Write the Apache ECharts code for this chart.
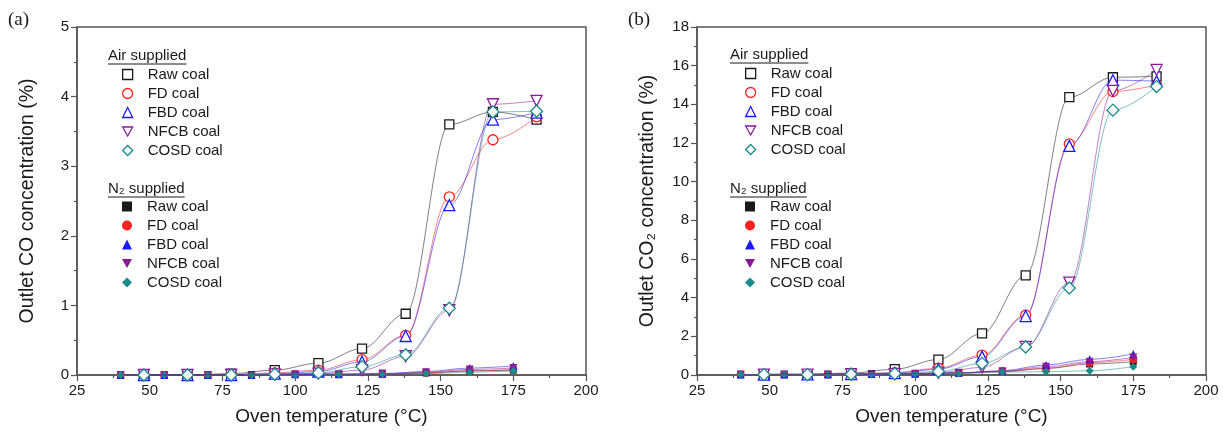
<!DOCTYPE html>
<html>
<head>
<meta charset="utf-8">
<script src="https://cdn.jsdelivr.net/npm/echarts@6/dist/echarts.min.js"></script>
<style>
html,body{margin:0;padding:0;background:#fff;}
#chart{width:1223px;height:436px;}
</style>
</head>
<body>
<div id="chart"></div>
<script>
// ---------- data ----------
const coalNames = ['Raw coal', 'FD coal', 'FBD coal', 'NFCB coal', 'COSD coal'];
const tempAir = [48, 63, 78, 93, 108, 123, 138, 153, 168, 183];
const tempN2 = [40, 55, 70, 85, 100, 115, 130, 145, 160, 175];

// Outlet CO (%) - air supplied
const coAirRaw  = [0.00, 0.00, 0.02, 0.07, 0.17, 0.38, 0.88, 3.60, 3.78, 3.67];
const coAirFD   = [0.00, 0.00, 0.01, 0.03, 0.07, 0.22, 0.57, 2.56, 3.38, 3.71];
const coAirFBD  = [0.00, 0.00, 0.00, 0.02, 0.05, 0.19, 0.56, 2.44, 3.67, 3.77];
const coAirNFCB = [0.00, 0.00, 0.00, 0.01, 0.02, 0.07, 0.27, 0.93, 3.89, 3.94];
const coAirCOSD = [0.00, 0.00, 0.00, 0.01, 0.03, 0.12, 0.29, 0.96, 3.78, 3.79];
// Outlet CO (%) - N2 supplied
const coN2Raw  = [0.00, 0.00, 0.00, 0.00, 0.01, 0.01, 0.01, 0.03, 0.06, 0.07];
const coN2FD   = [0.00, 0.00, 0.00, 0.00, 0.01, 0.01, 0.01, 0.03, 0.06, 0.08];
const coN2FBD  = [0.00, 0.00, 0.00, 0.00, 0.01, 0.01, 0.02, 0.05, 0.10, 0.13];
const coN2NFCB = [0.00, 0.00, 0.00, 0.00, 0.01, 0.01, 0.02, 0.04, 0.08, 0.10];
const coN2COSD = [0.00, 0.00, 0.00, 0.00, 0.00, 0.01, 0.01, 0.02, 0.04, 0.06];

// Outlet CO2 (%) - air supplied
const co2AirRaw  = [0.05, 0.05, 0.10, 0.30, 0.80, 2.15, 5.15, 14.37, 15.40, 15.45];
const co2AirFD   = [0.02, 0.03, 0.06, 0.12, 0.35, 1.03, 3.10, 11.95, 14.66, 15.00];
const co2AirFBD  = [0.02, 0.03, 0.05, 0.10, 0.30, 0.95, 3.05, 11.85, 15.25, 15.20];
const co2AirNFCB = [0.02, 0.02, 0.03, 0.05, 0.12, 0.40, 1.45, 4.78, 14.70, 15.78];
const co2AirCOSD = [0.02, 0.02, 0.04, 0.07, 0.18, 0.60, 1.45, 4.50, 13.70, 14.92];
// Outlet CO2 (%) - N2 supplied
const co2N2Raw  = [0.02, 0.02, 0.03, 0.04, 0.06, 0.10, 0.18, 0.34, 0.57, 0.69];
const co2N2FD   = [0.02, 0.02, 0.03, 0.04, 0.06, 0.10, 0.18, 0.34, 0.64, 0.81];
const co2N2FBD  = [0.02, 0.02, 0.03, 0.05, 0.07, 0.12, 0.22, 0.52, 0.81, 1.09];
const co2N2NFCB = [0.02, 0.02, 0.03, 0.05, 0.07, 0.11, 0.20, 0.43, 0.69, 0.91];
const co2N2COSD = [0.02, 0.02, 0.02, 0.03, 0.05, 0.08, 0.15, 0.17, 0.22, 0.43];

const xTicks = [25, 50, 75, 100, 125, 150, 175, 200];

// ---------- styling ----------
const colors = ['#1a1a1a', '#ff2020', '#1a1aff', '#8a1a9a', '#1a8a8a'];
const airSymbols = ['rect', 'circle', 'triangle', 'path://M0,0L10,0L5,9Z', 'diamond'];
const n2Symbols = ['rect', 'circle', 'triangle', 'path://M0,0L10,0L5,9Z', 'diamond'];
const airSizes = [9, 10, 11, 11, 12];
const n2Sizes = [7, 8, 8, 8, 8];
const FONT = '"Liberation Sans", Arial, sans-serif';

const charts = [
  { air: [coAirRaw, coAirFD, coAirFBD, coAirNFCB, coAirCOSD],
    n2: [coN2Raw, coN2FD, coN2FBD, coN2NFCB, coN2COSD] },
  { air: [co2AirRaw, co2AirFD, co2AirFBD, co2AirNFCB, co2AirCOSD],
    n2: [co2N2Raw, co2N2FD, co2N2FBD, co2N2NFCB, co2N2COSD] }
];

function zip(xs, ys) { return xs.map((x, i) => [x, ys[i]]); }
function hexA(hex, a) {
  const n = parseInt(hex.slice(1), 16);
  return 'rgba(' + (n >> 16 & 255) + ',' + (n >> 8 & 255) + ',' + (n & 255) + ',' + a + ')';
}

const series = [];
const legends = [];
const legendPos = [
  { air: { left: 117, top: 62 }, n2: { left: 117, top: 194 } },
  { air: { left: 740, top: 61 }, n2: { left: 740, top: 194 } }
];
charts.forEach((c, gi) => {
  const airNames = [], n2Names = [];
  // N2 first so air markers draw on top
  coalNames.forEach((nm, k) => {
    const sname = nm + '|n2|' + gi;
    n2Names.push({ name: sname, icon: n2Symbols[k], itemStyle: { color: colors[k], borderWidth: 0 } });
    series.push({
      name: sname, type: 'line', xAxisIndex: gi, yAxisIndex: gi,
      data: zip(tempN2, c.n2[k]), smooth: 0.35, smoothMonotone: 'x',
      symbol: n2Symbols[k], symbolSize: n2Sizes[k], showAllSymbol: true,
      itemStyle: { color: colors[k] },
      lineStyle: { color: hexA(colors[k], 0.55), width: 1 },
      emphasis: { disabled: true }, z: 2
    });
  });
  coalNames.forEach((nm, k) => {
    const sname = nm + '|air|' + gi;
    airNames.push({ name: sname, icon: airSymbols[k], itemStyle: { color: '#fff', borderColor: colors[k], borderWidth: 1.3 } });
    series.push({
      name: sname, type: 'line', xAxisIndex: gi, yAxisIndex: gi,
      data: zip(tempAir, c.air[k]), smooth: 0.35, smoothMonotone: 'x',
      symbol: airSymbols[k], symbolSize: airSizes[k], showAllSymbol: true,
      itemStyle: { color: '#fff', borderColor: colors[k], borderWidth: 1.3 },
      lineStyle: { color: hexA(colors[k], 0.55), width: 1 },
      emphasis: { disabled: true }, z: 3
    });
  });
  [['air', airNames], ['n2', n2Names]].forEach(([key, data]) => {
    legends.push({
      orient: 'vertical', left: legendPos[gi][key].left, top: legendPos[gi][key].top,
      itemWidth: 10, itemHeight: 10, itemGap: 4, selectedMode: false,
      data: data,
      formatter: (name) => name.split('|')[0],
      textStyle: { fontFamily: FONT, fontSize: 15, color: '#1a1a1a', lineHeight: 15, padding: [0, 0, 0, 10] }
    });
  });
});

// header widths for underline
const ctx = document.createElement('canvas').getContext('2d');
ctx.font = '15px ' + FONT;
const wAir = ctx.measureText('Air supplied').width;
const wN2 = ctx.measureText('N\u2082 supplied').width;

function header(x, y, txt, w) {
  return [
    { type: 'text', left: x, top: y, style: { text: txt, font: '15px ' + FONT, fill: '#1a1a1a' } },
    { type: 'line', shape: { x1: x, y1: y + 16, x2: x + w, y2: y + 16 }, style: { stroke: '#1a1a1a', lineWidth: 1 } }
  ];
}

const grids = [
  { left: 77, top: 27, width: 509, height: 348 },
  { left: 697, top: 27, width: 509, height: 348 }
];
const yNames = ['Outlet CO concentration (%)', 'Outlet CO\u2082 concentration (%)'];
const yMax = [5, 18], yInt = [1, 2];

const option = {
  backgroundColor: '#fff',
  animation: false,
  grid: grids.map(g => Object.assign({ show: true, borderColor: '#555', borderWidth: 1.5, backgroundColor: 'transparent' }, g)),
  xAxis: [0, 1].map(i => ({
    type: 'value', gridIndex: i, min: xTicks[0], max: xTicks[xTicks.length - 1], interval: 25,
    axisLine: { show: true, onZero: false, lineStyle: { color: '#555', width: 1.5 } },
    axisTick: { show: true, length: 6, lineStyle: { color: '#555', width: 1.2 } },
    minorTick: { show: true, splitNumber: 2, length: 3, lineStyle: { color: '#555', width: 1.2 } },
    splitLine: { show: false },
    axisLabel: { fontFamily: FONT, fontSize: 15, color: '#1a1a1a', margin: 8 },
    name: 'Oven temperature (\u00B0C)', nameLocation: 'middle', nameGap: 32,
    nameTextStyle: { fontFamily: FONT, fontSize: 19, color: '#1a1a1a' }
  })),
  yAxis: [0, 1].map(i => ({
    type: 'value', gridIndex: i, min: 0, max: yMax[i], interval: yInt[i],
    axisLine: { show: true, onZero: false, lineStyle: { color: '#555', width: 1.5 } },
    axisTick: { show: true, length: 6, lineStyle: { color: '#555', width: 1.2 } },
    minorTick: { show: true, splitNumber: 2, length: 3, lineStyle: { color: '#555', width: 1.2 } },
    splitLine: { show: false },
    axisLabel: { fontFamily: FONT, fontSize: 15, color: '#1a1a1a', margin: 8 },
    name: yNames[i], nameLocation: 'middle', nameGap: i === 0 ? 39 : 39,
    nameTextStyle: { fontFamily: FONT, fontSize: 19.5, color: '#1a1a1a' }
  })),
  legend: legends,
  series: series,
  graphic: [
    { type: 'text', left: 8, top: 11, style: { text: '(a)', font: '19px "Liberation Serif", "Times New Roman", serif', fill: '#1a1a1a' } },
    { type: 'text', left: 628, top: 11, style: { text: '(b)', font: '19px "Liberation Serif", "Times New Roman", serif', fill: '#1a1a1a' } }
  ].concat(
    header(108, 48, 'Air supplied', wAir),
    header(108, 181, 'N\u2082 supplied', wN2),
    header(730, 47, 'Air supplied', wAir),
    header(730, 181, 'N\u2082 supplied', wN2)
  )
};

const chart = echarts.init(document.getElementById('chart'), null, { renderer: 'canvas' });
chart.setOption(option);
</script>
</body>
</html>
